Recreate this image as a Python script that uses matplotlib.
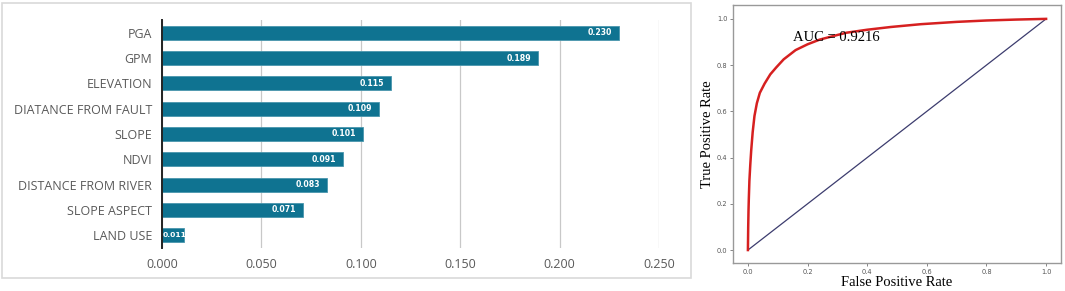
import matplotlib
matplotlib.use("Agg")
import matplotlib.pyplot as plt
from matplotlib.patches import Rectangle

# feature importance (top to bottom)
features = ["PGA", "GPM", "ELEVATION", "DIATANCE FROM FAULT", "SLOPE", "NDVI",
            "DISTANCE FROM RIVER", "SLOPE ASPECT", "LAND USE"]
importance = [0.230, 0.189, 0.115, 0.109, 0.101, 0.091, 0.083, 0.071, 0.011]
x_ticks = [0.0, 0.05, 0.10, 0.15, 0.20, 0.25]

# ROC curve
fpr = [0.0, 0.0005, 0.001, 0.002, 0.003, 0.005, 0.008, 0.011, 0.016, 0.022,
       0.03, 0.04, 0.056, 0.075, 0.095, 0.12, 0.16, 0.20, 0.24, 0.29,
       0.33, 0.40, 0.48, 0.58, 0.70, 0.80, 0.90, 1.0]
tpr = [0.0, 0.05, 0.10, 0.17, 0.22, 0.30, 0.37, 0.43, 0.51, 0.58,
       0.635, 0.68, 0.72, 0.76, 0.79, 0.825, 0.865, 0.89, 0.91, 0.927,
       0.94, 0.953, 0.965, 0.977, 0.987, 0.993, 0.997, 1.0]
auc = 0.9216

W, H = 1065, 291
fig = plt.figure(figsize=(W / 100, H / 100), dpi=100)
fig.patch.set_facecolor("white")

# frame round the left panel
fig.add_artist(Rectangle((2 / W, 1 - 278 / H), 689 / W, 275 / H, transform=fig.transFigure,
                         fill=False, edgecolor="#d9d9d9", linewidth=1.2))

# --- bar chart ---
ax = fig.add_axes([162 / W, 1 - 248 / H, (659 - 162) / W, (248 - 20) / H])
bar_color = "#0f7391"
ypos = list(range(len(features)))
ax.barh(ypos, importance, height=0.55, color=bar_color, edgecolor="#4a96ad",
        linewidth=0.6, zorder=3)
ax.set_ylim(len(features) - 0.5, -0.5)
ax.set_xlim(0, 0.25)
ax.set_yticks(ypos)
ax.set_yticklabels(features, fontsize=9, color="#595959", family="Open Sans")
ax.set_xticks(x_ticks)
ax.set_xticklabels([f"{t:.3f}" for t in x_ticks], fontsize=9, color="#595959",
                   family="Open Sans")
ax.tick_params(length=0, pad=7)
ax.tick_params(axis="x", pad=7)
for s in ["top", "right", "bottom"]:
    ax.spines[s].set_visible(False)
ax.spines["left"].set_color("#222222")
ax.spines["left"].set_linewidth(1.4)
ax.spines["left"].set_zorder(4)
ax.xaxis.grid(True, color="#c8c8c8", linewidth=0.9, zorder=0)
ax.set_axisbelow(True)

for y, v in zip(ypos, importance):
    if v > 0.02:
        ax.text(v - 0.0035, y, f"{v:.3f}", ha="right", va="center", color="white",
                fontsize=5.6, fontweight="bold", zorder=5)
    else:
        ax.text(0.0002, y, f"{v:.3f}", ha="left", va="center", color="white",
                fontsize=5.4, fontweight="bold", zorder=5)

# --- ROC curve ---
ax2 = fig.add_axes([733 / W, 1 - 263 / H, 328 / W, 258 / H])
ax2.plot([0, 1], [0, 1], color="#3c3c6e", linewidth=0.9)
ax2.plot(fpr, tpr, color="#d62020", linewidth=1.8, solid_joinstyle="round")
ax2.set_xlim(-0.05, 1.05)
ax2.set_ylim(-0.056, 1.06)
ticks = [0.0, 0.2, 0.4, 0.6, 0.8, 1.0]
ax2.set_xticks(ticks)
ax2.set_yticks(ticks)
ax2.tick_params(labelsize=4.8, colors="#555555", length=2, width=0.5, pad=2)
for s in ax2.spines.values():
    s.set_color("#999999")
    s.set_linewidth(1.0)
serif = "Liberation Serif"
ax2.set_xlabel("False Positive Rate", family=serif, fontsize=10.5, labelpad=1)
ax2.set_ylabel("True Positive Rate", family=serif, fontsize=10.5, labelpad=2)
ax2.text(0.15, 0.918, f"AUC = {auc}", family=serif, fontsize=10.5, ha="left",
         va="center")

fig.savefig("out.png", dpi=100)
